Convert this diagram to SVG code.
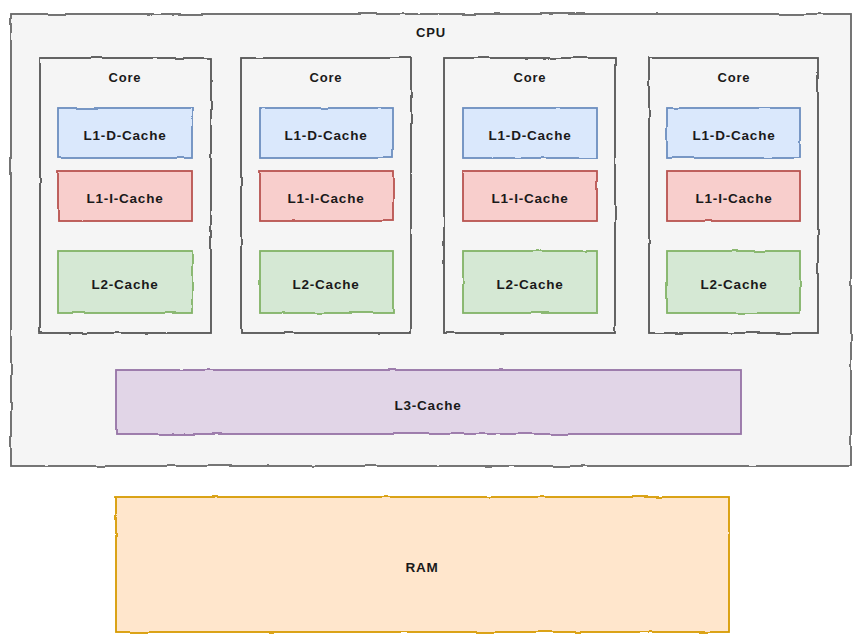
<svg xmlns="http://www.w3.org/2000/svg" width="863" height="644" viewBox="0 0 863 644">
<defs>
<filter id="rough" x="-2%" y="-2%" width="104%" height="104%">
<feTurbulence type="fractalNoise" baseFrequency="0.04" numOctaves="2" seed="3" result="n"/>
<feDisplacementMap in="SourceGraphic" in2="n" scale="2.5" xChannelSelector="R" yChannelSelector="G"/>
</filter>
<style>
text{font-family:"Liberation Sans",Arial,sans-serif;font-weight:bold;font-size:13px;fill:#1a1a1a;text-anchor:middle;dominant-baseline:central;letter-spacing:0.8px}
.box{stroke-width:1.8;filter:url(#rough)}
.cpu{fill:#f5f5f5;stroke:#666666}
.core{fill:#f5f5f5;stroke:#555555}
.l1d{fill:#dae8fc;stroke:#6c8ebf}
.l1i{fill:#f8cecc;stroke:#b85450}
.l2{fill:#d5e8d4;stroke:#82b366}
.l3{fill:#e1d5e7;stroke:#9673a6}
.ram{fill:#ffe6cc;stroke:#d79b00}
.cache{font-size:13.5px}
</style>
</defs>
<rect width="863" height="644" fill="#ffffff"/>
<g id="cpu">
<rect class="box cpu" x="11" y="14" width="840" height="452"/>
<text x="431" y="32">CPU</text>
</g>
<g id="core1">
<rect class="box core" x="40" y="58" width="171" height="275"/>
<text x="125" y="77">Core</text>
</g>
<g id="core2">
<rect class="box core" x="241" y="58" width="170" height="275"/>
<text x="326" y="77">Core</text>
</g>
<g id="core3">
<rect class="box core" x="444" y="58" width="171" height="275"/>
<text x="530" y="77">Core</text>
</g>
<g id="core4">
<rect class="box core" x="649" y="58" width="169" height="275"/>
<text x="734" y="77">Core</text>
</g>
<g id="l1d1"><rect class="box l1d" x="58" y="108" width="134" height="50"/><text class="cache" x="125" y="135">L1-D-Cache</text></g>
<g id="l1i1"><rect class="box l1i" x="58" y="171" width="134" height="50"/><text class="cache" x="125" y="198">L1-I-Cache</text></g>
<g id="l21"><rect class="box l2" x="58" y="251" width="134" height="62"/><text class="cache" x="125" y="284">L2-Cache</text></g>
<g id="l1d2"><rect class="box l1d" x="260" y="108" width="133" height="50"/><text class="cache" x="326" y="135">L1-D-Cache</text></g>
<g id="l1i2"><rect class="box l1i" x="260" y="171" width="133" height="50"/><text class="cache" x="326" y="198">L1-I-Cache</text></g>
<g id="l22"><rect class="box l2" x="260" y="251" width="133" height="62"/><text class="cache" x="326" y="284">L2-Cache</text></g>
<g id="l1d3"><rect class="box l1d" x="463" y="108" width="134" height="50"/><text class="cache" x="530" y="135">L1-D-Cache</text></g>
<g id="l1i3"><rect class="box l1i" x="463" y="171" width="134" height="50"/><text class="cache" x="530" y="198">L1-I-Cache</text></g>
<g id="l23"><rect class="box l2" x="463" y="251" width="134" height="62"/><text class="cache" x="530" y="284">L2-Cache</text></g>
<g id="l1d4"><rect class="box l1d" x="667" y="108" width="133" height="50"/><text class="cache" x="734" y="135">L1-D-Cache</text></g>
<g id="l1i4"><rect class="box l1i" x="667" y="171" width="133" height="50"/><text class="cache" x="734" y="198">L1-I-Cache</text></g>
<g id="l24"><rect class="box l2" x="667" y="251" width="133" height="62"/><text class="cache" x="734" y="284">L2-Cache</text></g>
<g id="l3"><rect class="box l3" x="116" y="370" width="625" height="64"/><text class="cache" x="428" y="405">L3-Cache</text></g>
<g id="ram"><rect class="box ram" x="116" y="497" width="613" height="135"/><text class="cache" x="422" y="567">RAM</text></g>
<g id="connectors"/>
</svg>
